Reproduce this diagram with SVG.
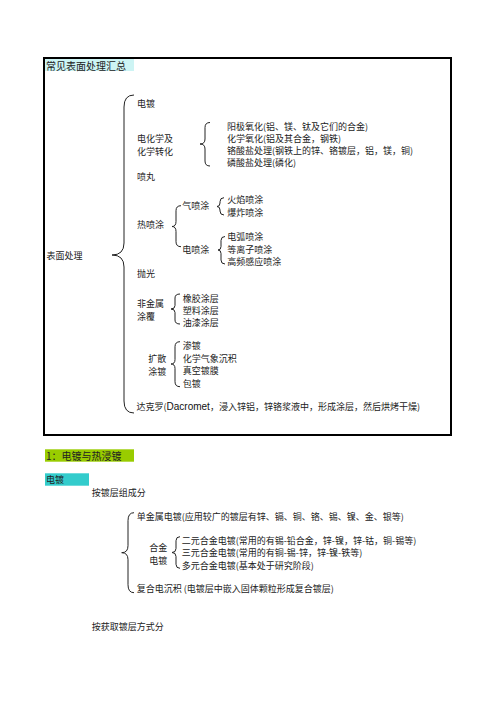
<svg xmlns="http://www.w3.org/2000/svg" width="496" height="702" viewBox="0 0 496 702">
<style>
text{font-family:"Noto Sans CJK SC","Noto Sans",sans-serif;font-size:9px;fill:#222;dominant-baseline:central}
.h{font-size:10px}
.lat{font-family:"Liberation Sans",Arial,sans-serif;font-size:10px;fill:#111}
.br{fill:none;stroke:#222;stroke-width:1}
</style>
<rect width="496" height="702" fill="#fff"/>
<g id="summary-frame">
<rect x="44" y="58" width="407" height="377" fill="none" stroke="#000" stroke-width="2"/>
<rect x="45" y="59" width="89" height="12" fill="#cdf4f4"/>
<text class="h" x="46" y="65">常见表面处理汇总</text>
</g>
<g id="connectors">
<path class="br" d="M134,95 Q124,95 124,107 L124,243 Q124,255 112,255 Q124,255 124,267 L124,401 Q124,413 134,413"/>
<path class="br" d="M210,122.5 Q205,122.5 205,127.5 L205,139 Q205,144 200,144 Q205,144 205,149 L205,161 Q205,166 210,166"/>
<path class="br" d="M181,205.7 Q176,205.7 176,210.7 L176,221.5 Q176,226.5 172,226.5 Q176,226.5 176,231.5 L176,241.7 Q176,246.7 181,246.7"/>
<path class="br" d="M224,197.7 Q220,197.7 220,201.7 L220,203 Q220,206.5 217,206.5 Q220,206.5 220,210 L220,211 Q220,215 224,215"/>
<path class="br" d="M225,236.5 Q221,236.5 221,240.5 L221,246.5 Q221,250 218,250 Q221,250 221,253.5 L221,260 Q221,264 225,264"/>
<path class="br" d="M180,294 Q175,294 175,298 L175,305.5 Q175,309 171,309 Q175,309 175,312.5 L175,320 Q175,324 180,324"/>
<path class="br" d="M180,341.7 Q175,341.7 175,346.7 L175,359.5 Q175,364 171,364 Q175,364 175,368.5 L175,381.7 Q175,386.7 180,386.7"/>
<path class="br" d="M134,512.7 Q128,512.7 128,520.7 L128,545.7 Q128,552.7 121.7,552.7 Q128,552.7 128,559.7 L128,584.7 Q128,592.7 134,592.7"/>
<path class="br" d="M180,536.7 Q176,536.7 176,540.7 L176,548.5 Q176,552.5 172,552.5 Q176,552.5 176,556.5 L176,564.3 Q176,568.3 180,568.3"/>
</g>
<g id="root">
<text x="46.5" y="255">表面处理</text>
</g>
<g id="electroplating">
<text x="137" y="103">电镀</text>
</g>
<g id="electrochemical">
<text x="137" y="138.5">电化学及</text>
<text x="137" y="151">化学转化</text>
</g>
<g id="electrochemical-items">
<text x="227" y="126">阳极氧化(铝、镁、钛及它们的合金)</text>
<text x="227" y="138.3">化学氧化(铝及其合金，钢铁)</text>
<text x="227" y="150.6">铬酸盐处理(钢铁上的锌、铬镀层，铝，镁，铜)</text>
<text x="227" y="162.9">磷酸盐处理(磷化)</text>
</g>
<g id="shot-peening">
<text x="137" y="176">喷丸</text>
</g>
<g id="thermal-spray">
<text x="137" y="224">热喷涂</text>
</g>
<g id="gas-spray">
<text x="182.3" y="205.7">气喷涂</text>
<text x="227.3" y="199.8">火焰喷涂</text>
<text x="227.3" y="212.4">爆炸喷涂</text>
</g>
<g id="electric-spray">
<text x="182.3" y="249">电喷涂</text>
<text x="227.3" y="236.4">电弧喷涂</text>
<text x="227.3" y="249">等离子喷涂</text>
<text x="227.3" y="261.6">高频感应喷涂</text>
</g>
<g id="polishing">
<text x="137" y="273.3">抛光</text>
</g>
<g id="nonmetal-coating">
<text x="137" y="303.3">非金属</text>
<text x="137" y="316.2">涂覆</text>
<text x="182.7" y="298">橡胶涂层</text>
<text x="182.7" y="310.4">塑料涂层</text>
<text x="182.7" y="322.8">油漆涂层</text>
</g>
<g id="diffusion-coating">
<text x="148.3" y="358.5">扩散</text>
<text x="148.3" y="371">涂镀</text>
<text x="182.7" y="345.6">渗镀</text>
<text x="182.7" y="358.2">化学气象沉积</text>
<text x="182.7" y="370.8">真空镀膜</text>
<text x="182.7" y="383.4">包镀</text>
</g>
<g id="dacromet">
<text x="136.5" y="406">达克罗(<tspan class="lat">Dacromet</tspan>，浸入锌铝，锌铬浆液中，形成涂层，然后烘烤干燥)</text>
</g>
<g id="section-1">
<rect x="45" y="449.3" width="89" height="12.4" fill="#99cc00"/>
<text class="h" x="46" y="455.6">1：电镀与热浸镀</text>
</g>
<g id="section-electroplating">
<rect x="45" y="473.3" width="44" height="12.4" fill="#33cccc"/>
<text x="46" y="479.6">电镀</text>
</g>
<g id="by-composition">
<text x="91.7" y="492.7">按镀层组成分</text>
</g>
<g id="single-metal">
<text x="136.7" y="516">单金属电镀(应用较广的镀层有锌、镉、铜、铬、锡、镍、金、银等)</text>
</g>
<g id="alloy">
<text x="149.3" y="547.5">合金</text>
<text x="149.3" y="560">电镀</text>
<text x="181.7" y="540.3">二元合金电镀(常用的有锡-铅合金，锌-镍，锌-钴，铜-锡等)</text>
<text x="181.7" y="552.7">三元合金电镀(常用的有铜-锡-锌，锌-镍-铁等)</text>
<text x="181.7" y="565.1">多元合金电镀(基本处于研究阶段)</text>
</g>
<g id="composite">
<text x="136.7" y="588.3">复合电沉积 (电镀层中嵌入固体颗粒形成复合镀层)</text>
</g>
<g id="by-method">
<text x="91.7" y="626.7">按获取镀层方式分</text>
</g>
</svg>
